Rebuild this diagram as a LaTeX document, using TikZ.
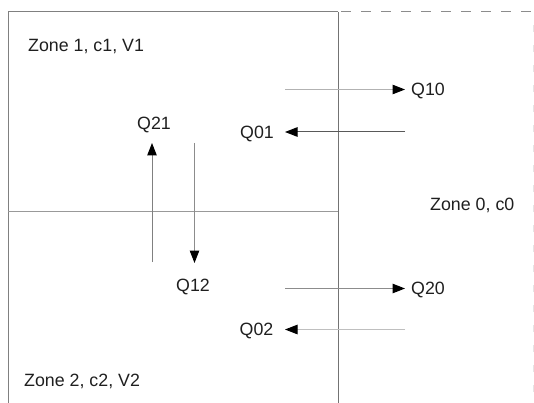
\documentclass[tikz,border=0pt]{standalone}
\usepackage{fontspec}
\setmainfont{Liberation Sans}
\usetikzlibrary{arrows.meta}
\begin{document}
\begin{tikzpicture}[x=1pt,y=-1pt,
  lbl/.style={inner sep=0pt, text height=12.6pt, text depth=0pt, font=\fontsize{17.8}{20}\selectfont, text=black!88},
  wall/.style={draw=black!50, line width=1pt},
  flow/.style={line width=1pt, -{Triangle[length=12.5pt,width=9.5pt,color=black]}},
]
\useasboundingbox (0,0) rectangle (534,403);
% zone walls
\draw[wall] (8,403) -- (8,12) -- (338,12);
\draw[wall, draw=black!55] (338,12) -- (338,403);
\draw[wall, draw=black!40, line width=1.3pt] (8,211.5) -- (338,211.5);
\draw[draw=black!45, line width=1pt, dash pattern=on 10pt off 10pt, dash phase=-3pt] (338,12) -- (534,12);
\draw[draw=black!10, line width=1pt, dash pattern=on 7pt off 13pt] (533.5,25) -- (533.5,403);
% labels
\node[lbl, anchor=west] (z1) at (28,45) {Zone 1, c1, V1};
\node[lbl, anchor=west] (z0) at (430,204) {Zone 0, c0};
\node[lbl, anchor=west] (z2) at (24,380.5) {Zone 2, c2, V2};
\node[lbl, anchor=west] (q10) at (411,89.5) {Q10};
\node[lbl, anchor=east] (q01) at (274,132) {Q01};
\node[lbl] (q21) at (154,123.5) {Q21};
\node[lbl] (q12) at (193,285) {Q12};
\node[lbl, anchor=west] (q20) at (411,288.5) {Q20};
\node[lbl, anchor=east] (q02) at (273.5,329.5) {Q02};
% arrow end points
\coordinate (a10s) at (285,89.5);  \coordinate (a10e) at (405,89.5);
\coordinate (a01s) at (405,132);   \coordinate (a01e) at (285,132);
\coordinate (a21s) at (152,262);   \coordinate (a21e) at (152,143);
\coordinate (a12s) at (194.5,143); \coordinate (a12e) at (194.5,263);
\coordinate (a20s) at (285,288.5); \coordinate (a20e) at (405,288.5);
\coordinate (a02s) at (405,329.5); \coordinate (a02e) at (285,329.5);
% flows
\draw[flow, draw=black!30] (a10s) -- (a10e);
\draw[flow, draw=black!65] (a01s) -- (a01e);
\draw[flow, draw=black!50] (a21s) -- (a21e);
\draw[flow, draw=black!45] (a12s) -- (a12e);
\draw[flow, draw=black!45, line width=1.3pt] (a20s) -- (a20e);
\draw[flow, draw=black!25] (a02s) -- (a02e);
\end{tikzpicture}
\end{document}
